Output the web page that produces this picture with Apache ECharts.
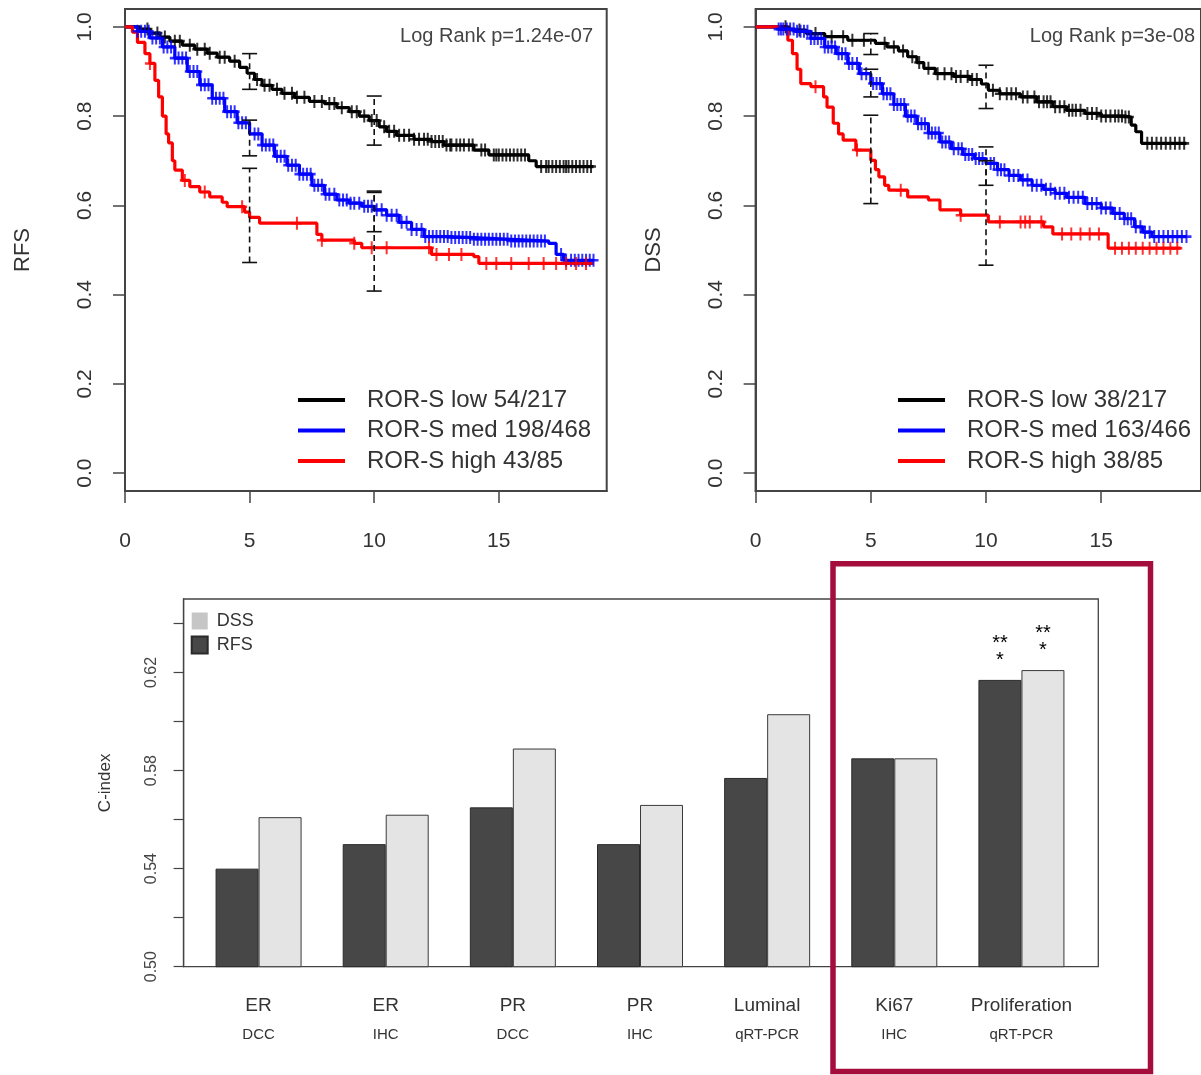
<!DOCTYPE html>
<html>
<head>
<meta charset="utf-8">
<script src="https://cdn.jsdelivr.net/npm/echarts@6/dist/echarts.min.js"></script>
<style>
  html, body { margin: 0; padding: 0; background: #fff; }
  #main { width: 1201px; height: 1075px; }
</style>
</head>
<body>
<div id="main"></div>
<script>
// --- Kaplan-Meier data (years, survival) ---
var timeTicks = [0, 5, 10, 15];
var survTicks = [0, 0.2, 0.4, 0.6, 0.8, 1.0];

var rfsNames = ['ROR-S low 54/217', 'ROR-S med 198/468', 'ROR-S high 43/85'];
var dssNames = ['ROR-S low 38/217', 'ROR-S med 163/466', 'ROR-S high 38/85'];
var rfsPval = 'Log Rank p=1.24e-07';
var dssPval = 'Log Rank p=3e-08';

var rfsLow = [[0,1],[0.6,0.995],[1.0,0.986],[1.4,0.977],[1.8,0.968],[2.3,0.959],[2.8,0.95],[3.3,0.941],
  [3.7,0.932],[4.2,0.923],[4.6,0.909],[4.9,0.896],[5.2,0.882],[5.5,0.869],[5.9,0.86],[6.3,0.851],
  [6.8,0.842],[7.4,0.833],[8.0,0.828],[8.5,0.819],[9.0,0.81],[9.4,0.80],[9.8,0.79],[10.2,0.776],
  [10.5,0.766],[10.9,0.757],[11.6,0.748],[12.3,0.743],[12.8,0.735],[14.0,0.724],[14.6,0.713],
  [16.2,0.70],[16.5,0.687],[18.8,0.687]];
var rfsMed = [[0,1],[0.5,0.99],[1.0,0.975],[1.5,0.955],[2.0,0.93],[2.5,0.9],[3.0,0.87],[3.5,0.84],
  [4.0,0.81],[4.5,0.785],[5.0,0.76],[5.5,0.735],[6.0,0.71],[6.5,0.69],[7.0,0.67],[7.5,0.645],
  [8.0,0.625],[8.5,0.612],[9.0,0.605],[9.5,0.598],[10.0,0.59],[10.5,0.578],[11.0,0.562],[11.5,0.546],
  [12.0,0.53],[13.0,0.528],[14.0,0.524],[15.5,0.52],[17.0,0.515],[17.3,0.49],[17.6,0.477],[18.8,0.477]];
var rfsHigh = [[0,1],[0.3,0.988],[0.5,0.965],[0.8,0.94],[1.0,0.918],[1.2,0.88],[1.35,0.843],[1.5,0.8],
  [1.65,0.76],[1.75,0.74],[1.9,0.70],[2.0,0.679],[2.3,0.656],[2.6,0.642],[3.0,0.63],[3.4,0.619],
  [3.9,0.607],[4.1,0.597],[4.8,0.585],[5.0,0.573],[5.4,0.56],[7.3,0.56],[7.7,0.535],[7.9,0.522],
  [9.2,0.515],[9.5,0.505],[12.1,0.505],[12.3,0.49],[14.0,0.485],[14.2,0.47],[18.8,0.47]];

var dssLow = [[0,1],[1.4,0.993],[2.2,0.985],[3.0,0.978],[4.0,0.97],[5.2,0.963],[5.7,0.955],[6.2,0.946],
  [6.6,0.933],[7.0,0.92],[7.3,0.907],[7.8,0.895],[8.6,0.889],[9.3,0.882],[9.8,0.872],[10.1,0.858],
  [10.6,0.85],[11.5,0.843],[12.2,0.832],[12.9,0.821],[13.5,0.813],[14.3,0.806],[15.0,0.80],[16.0,0.798],
  [16.3,0.78],[16.5,0.765],[16.75,0.739],[18.7,0.739]];
var dssMed = [[0,1],[1.0,0.995],[1.7,0.99],[2.4,0.974],[3.0,0.955],[3.5,0.94],[4.0,0.918],[4.5,0.895],
  [5.0,0.873],[5.5,0.85],[6.0,0.826],[6.5,0.80],[7.0,0.783],[7.5,0.762],[8.0,0.742],[8.5,0.727],
  [9.0,0.714],[9.5,0.705],[10.0,0.694],[10.5,0.68],[11.0,0.667],[11.5,0.657],[12.0,0.645],[12.5,0.636],
  [13.0,0.627],[13.5,0.618],[14.3,0.604],[15.0,0.594],[15.5,0.582],[16.0,0.57],[16.45,0.552],
  [16.8,0.54],[17.2,0.53],[18.7,0.53]];
var dssHigh = [[0,1],[1.4,0.97],[1.6,0.94],[1.8,0.905],[1.96,0.873],[2.4,0.866],[2.95,0.843],[3.1,0.82],
  [3.37,0.784],[3.6,0.76],[3.8,0.746],[4.35,0.724],[5.0,0.701],[5.2,0.68],[5.35,0.664],[5.6,0.645],
  [5.78,0.634],[6.6,0.619],[7.5,0.612],[8.0,0.59],[8.9,0.578],[10.1,0.563],[12.5,0.552],[12.9,0.536],
  [15.3,0.504],[18.45,0.504]];

// censoring times
var rfsLowCens = [0.9,1.3,1.6,2.0,2.2,2.6,2.9,3.2,3.4,3.8,4.0,4.4,5.3,5.6,5.8,6.1,6.4,6.7,6.9,7.2,7.6,
  7.9,8.2,8.4,8.7,9.1,9.3,9.6,9.9,10.1,10.4,10.6,10.8,11.0,11.2,11.4,11.6,11.8,12.0,12.15,12.3,12.45,
  12.6,12.75,12.9,13.05,13.1,13.3,13.45,13.6,13.8,13.95,14.3,14.45,14.8,14.9,15.0,15.15,15.3,15.45,
  15.6,15.75,15.9,16.05,16.7,16.9,17.0,17.15,17.3,17.45,17.6,17.7,17.8,17.95,18.1,18.25,18.4,18.55,18.7];
var rfsMedCens = [0.5,0.65,0.8,0.95,1.1,1.25,1.4,1.55,1.7,1.85,2.0,2.15,2.3,2.45,2.6,2.75,2.9,3.05,3.2,
  3.35,3.5,3.65,3.8,3.95,4.1,4.25,4.4,4.55,4.7,4.85,5.2,5.35,5.5,5.65,5.8,5.95,6.1,6.25,6.4,6.55,6.7,
  6.85,7.0,7.15,7.3,7.45,7.6,7.75,7.9,8.05,8.2,8.4,8.6,8.75,8.9,9.05,9.2,9.4,9.6,9.75,9.9,10.1,10.3,
  10.5,10.7,10.9,11.1,11.3,11.5,11.7,11.9,12.05,12.2,12.35,12.5,12.65,12.8,12.95,13.1,13.25,13.4,13.55,
  13.7,13.85,14.0,14.15,14.3,14.45,14.6,14.75,14.9,15.05,15.2,15.35,15.5,15.65,15.8,15.95,16.1,16.25,
  16.4,16.55,16.7,16.85,17.5,17.7,17.9,18.05,18.2,18.35,18.5,18.65,18.8];
var rfsHighCens = [1.0,2.4,3.2,4.7,6.9,7.9,9.2,9.9,10.5,12.2,12.5,13.0,13.5,14.5,14.9,15.5,16.2,16.8,
  17.3,17.7,18.1,18.5];
var dssLowCens = [1.3,1.9,2.6,3.3,3.8,4.2,4.7,5.6,6.0,6.4,6.8,7.1,7.5,7.9,8.2,8.5,8.7,8.9,9.2,9.4,9.6,
  10.3,10.6,10.9,11.1,11.3,11.6,11.8,12.1,12.3,12.5,12.65,12.8,13.0,13.2,13.4,13.6,13.75,13.9,14.1,
  14.4,14.6,14.8,15.0,15.2,15.4,15.6,15.75,15.9,16.05,16.2,17.0,17.2,17.4,17.6,17.8,18.0,18.2,18.4,18.6];
var dssMedCens = [1.0,1.1,1.2,1.35,1.5,1.65,1.8,1.95,2.1,2.25,2.4,2.55,2.7,2.85,3.0,3.15,3.3,3.45,3.6,
  3.75,3.9,4.05,4.2,4.4,4.6,4.8,5.1,5.25,5.4,5.55,5.7,5.85,6.0,6.15,6.3,6.45,6.6,6.75,6.9,7.05,7.2,
  7.35,7.5,7.65,7.8,7.95,8.1,8.25,8.4,8.6,8.8,8.95,9.1,9.25,9.4,9.55,9.7,9.85,10.2,10.35,10.5,10.65,
  10.8,11.0,11.2,11.4,11.6,11.8,12.0,12.2,12.4,12.6,12.8,13.0,13.2,13.4,13.6,13.8,14.0,14.2,14.4,14.6,
  14.8,15.0,15.2,15.4,15.6,15.8,16.0,16.15,16.3,16.5,16.7,16.9,17.1,17.3,17.5,17.7,17.9,18.1,18.3,18.5,18.7];
var dssHighCens = [2.6,4.4,6.3,8.9,10.6,11.5,11.7,11.9,12.4,13.3,13.7,14.1,14.5,14.9,15.6,15.9,16.2,
  16.5,16.8,17.1,17.4,17.7,18.0,18.3];

// confidence intervals [time, lower, upper]
var rfsLowCI = [[5,0.860,0.940],[10,0.735,0.845]];
var rfsMedCI = [[5,0.711,0.791],[10,0.541,0.629]];
var rfsHighCI = [[5,0.472,0.683],[10,0.408,0.632]];
var dssLowCI = [[5,0.938,0.985],[10,0.817,0.914]];
var dssMedCI = [[5,0.843,0.905],[10,0.645,0.731]];
var dssHighCI = [[5,0.604,0.802],[10,0.466,0.700]];

// --- C-index bars ---
var markers = ['ER','ER','PR','PR','Luminal','Ki67','Proliferation'];
var assays = ['DCC','IHC','DCC','IHC','qRT-PCR','IHC','qRT-PCR'];
var rfsCindex = [0.540,0.550,0.565,0.550,0.577,0.585,0.617];
var dssCindex = [0.561,0.562,0.589,0.566,0.603,0.585,0.621];
var rfsStars = ['','','','','','','**\n*'];
var dssStars = ['','','','','','','**\n*'];
var cTicks = [0.50,0.52,0.54,0.56,0.58,0.60,0.62,0.64];
var cLabels = [0.50,0.54,0.58,0.62];

var FONT = '"Liberation Sans", Arial, sans-serif';
var plusPath = 'path://M4,0H6V10H4Z M0,4H10V6H0Z';

function survAt(curve, t) {
  var s = curve[0][1];
  for (var i = 0; i < curve.length; i++) {
    if (curve[i][0] <= t) s = curve[i][1];
  }
  return s;
}

function ciItem(params, api) {
  var lo = api.coord([api.value(0), api.value(1)]);
  var hi = api.coord([api.value(0), api.value(2)]);
  var cap = 7.5;
  var st = { stroke: '#111', lineWidth: 1.6 };
  return {
    type: 'group',
    children: [
      { type: 'line', shape: { x1: lo[0], y1: lo[1], x2: hi[0], y2: hi[1] },
        style: { stroke: '#111', lineWidth: 1.6, lineDash: [6, 4] } },
      { type: 'line', shape: { x1: lo[0] - cap, y1: lo[1], x2: lo[0] + cap, y2: lo[1] }, style: st },
      { type: 'line', shape: { x1: hi[0] - cap, y1: hi[1], x2: hi[0] + cap, y2: hi[1] }, style: st }
    ]
  };
}

function kmSeries(idx, name, color, curve, cens, ci) {
  return [
    { name: name, type: 'line', step: 'end', xAxisIndex: idx, yAxisIndex: idx,
      data: curve, showSymbol: false, color: color, z: 2,
      lineStyle: { color: color, width: 3.2 } },
    { name: name + ' cens', type: 'scatter', xAxisIndex: idx, yAxisIndex: idx,
      data: cens.map(function (t) { return [t, survAt(curve, t)]; }),
      symbol: plusPath, symbolSize: [10, 13], itemStyle: { color: color }, z: 3, silent: true },
    { name: name + ' ci', type: 'custom', xAxisIndex: idx, yAxisIndex: idx,
      data: ci, renderItem: ciItem, z: 4, silent: true }
  ];
}

function kmX(idx) {
  return {
    gridIndex: idx, type: 'value', min: 0, max: 19.33,
    axisLine: { show: true, onZero: false, lineStyle: { color: '#444', width: 2 } },
    axisTick: { show: true, length: 12, customValues: timeTicks, lineStyle: { color: '#444', width: 1.5 } },
    axisLabel: { customValues: timeTicks, fontSize: 21, color: '#333', margin: 40 },
    splitLine: { show: false }
  };
}
function kmY(idx, name) {
  return {
    gridIndex: idx, type: 'value', min: -0.04, max: 1.04,
    name: name, nameLocation: 'middle', nameRotate: 90, nameGap: 91,
    nameTextStyle: { fontSize: 22, color: '#333' },
    axisLine: { show: true, onZero: false, lineStyle: { color: '#444', width: 2 } },
    axisTick: { show: true, length: 12, customValues: survTicks, lineStyle: { color: '#444', width: 1.5 } },
    axisLabel: { customValues: survTicks, rotate: 90, fontSize: 21, color: '#333', margin: 29,
      formatter: function (v) { return v.toFixed(1); } },
    splitLine: { show: false }
  };
}
function kmLegend(names, left) {
  return {
    data: names, orient: 'vertical', left: left, top: 388, padding: 0, icon: 'rect',
    itemWidth: 47, itemHeight: 4, itemGap: 6.5, selectedMode: false,
    textStyle: { fontSize: 24, color: '#333', padding: [0, 0, 0, 17] }
  };
}

var series = []
  .concat(kmSeries(0, rfsNames[0], '#000000', rfsLow, rfsLowCens, rfsLowCI))
  .concat(kmSeries(0, rfsNames[1], '#0000ff', rfsMed, rfsMedCens, rfsMedCI))
  .concat(kmSeries(0, rfsNames[2], '#ff0000', rfsHigh, rfsHighCens, rfsHighCI))
  .concat(kmSeries(1, dssNames[0], '#000000', dssLow, dssLowCens, dssLowCI))
  .concat(kmSeries(1, dssNames[1], '#0000ff', dssMed, dssMedCens, dssMedCI))
  .concat(kmSeries(1, dssNames[2], '#ff0000', dssHigh, dssHighCens, dssHighCI));

function barData(vals, stars) {
  return vals.map(function (v, i) {
    if (!stars[i]) return v;
    return { value: v, label: { show: true, formatter: stars[i] } };
  });
}
var starLabel = { show: false, position: 'top', distance: 11, color: '#000',
  fontSize: 20, lineHeight: 17 };

series.push({
  name: 'RFS', type: 'bar', xAxisIndex: 3, yAxisIndex: 3, data: barData(rfsCindex, rfsStars),
  barWidth: 43, barGap: '0%', label: starLabel,
  itemStyle: { color: '#474747', borderColor: '#2a2a2a', borderWidth: 1 }
});
series.push({
  name: 'DSS', type: 'bar', xAxisIndex: 3, yAxisIndex: 3, data: barData(dssCindex, dssStars),
  barWidth: 43, barGap: '0%', label: starLabel,
  itemStyle: { color: '#e4e4e4', borderColor: '#3a3a3a', borderWidth: 1 }
});

var option = {
  animation: false,
  backgroundColor: '#ffffff',
  textStyle: { fontFamily: FONT },
  grid: [
    { left: 125, top: 9, width: 481.7, height: 482, show: true, borderColor: '#444', borderWidth: 2 },
    { left: 755.6, top: 9, width: 455.2, height: 482, show: true, borderColor: '#444', borderWidth: 2 },
    { left: 183.6, top: 599, width: 914.7, height: 367.7, show: true, borderColor: '#444', borderWidth: 1.3 },
    { left: 195, top: 599, width: 890, height: 367.7 }
  ],
  xAxis: [
    kmX(0), kmX(1),
    { gridIndex: 2, type: 'value', min: 0, max: 1, show: false },
    { gridIndex: 3, type: 'category',
      data: markers.map(function (m, i) { return m + '\n' + assays[i]; }),
      axisLine: { show: false, onZero: false }, axisTick: { show: false },
      axisLabel: {
        margin: 25, interval: 0,
        formatter: function (v) { var p = v.split('\n'); return '{a|' + p[0] + '}\n{b|' + p[1] + '}'; },
        rich: {
          a: { fontSize: 19, lineHeight: 29, color: '#333', fontFamily: FONT },
          b: { fontSize: 15, lineHeight: 29, color: '#333', fontFamily: FONT }
        }
      }
    }
  ],
  yAxis: [
    kmY(0, 'RFS'), kmY(1, 'DSS'),
    { gridIndex: 2, type: 'value', min: 0.5, max: 0.65,
      name: 'C-index', nameLocation: 'middle', nameRotate: 90, nameGap: 70,
      nameTextStyle: { fontSize: 17, color: '#333' },
      axisLine: { show: true, onZero: false, lineStyle: { color: '#444', width: 1.3 } },
      axisTick: { show: true, length: 10, customValues: cTicks, lineStyle: { color: '#444', width: 1.2 } },
      axisLabel: { customValues: cLabels, rotate: 90, fontSize: 16, color: '#444', margin: 24,
        formatter: function (v) { return v.toFixed(2); } },
      splitLine: { show: false } },
    { gridIndex: 3, type: 'value', min: 0.5, max: 0.65, show: false }
  ],
  legend: [
    kmLegend(rfsNames, 298),
    kmLegend(dssNames, 898),
    { data: [{ name: 'DSS', itemStyle: { color: '#c6c6c6', borderWidth: 0 } }, { name: 'RFS' }],
      orient: 'vertical', left: 190.7, top: 612, padding: 0, icon: 'rect', itemWidth: 16, itemHeight: 17,
      itemGap: 5.5, selectedMode: false,
      textStyle: { fontSize: 18, color: '#333', padding: [0, 0, 0, 4] } }
  ],
  graphic: [
    { type: 'text', x: 593, y: 36, z: 10,
      style: { text: rfsPval, fontSize: 20, fontFamily: FONT, fill: '#444', align: 'right', verticalAlign: 'middle' } },
    { type: 'text', x: 1195, y: 36, z: 10,
      style: { text: dssPval, fontSize: 20, fontFamily: FONT, fill: '#444', align: 'right', verticalAlign: 'middle' } },
    { type: 'rect', z: 100, shape: { x: 833, y: 563.7, width: 317.5, height: 507.8 },
      style: { fill: 'none', stroke: '#a50d3d', lineWidth: 5.5 } }
  ],
  series: series
};

var chart = echarts.init(document.getElementById('main'));
chart.setOption(option);
</script>
</body>
</html>
